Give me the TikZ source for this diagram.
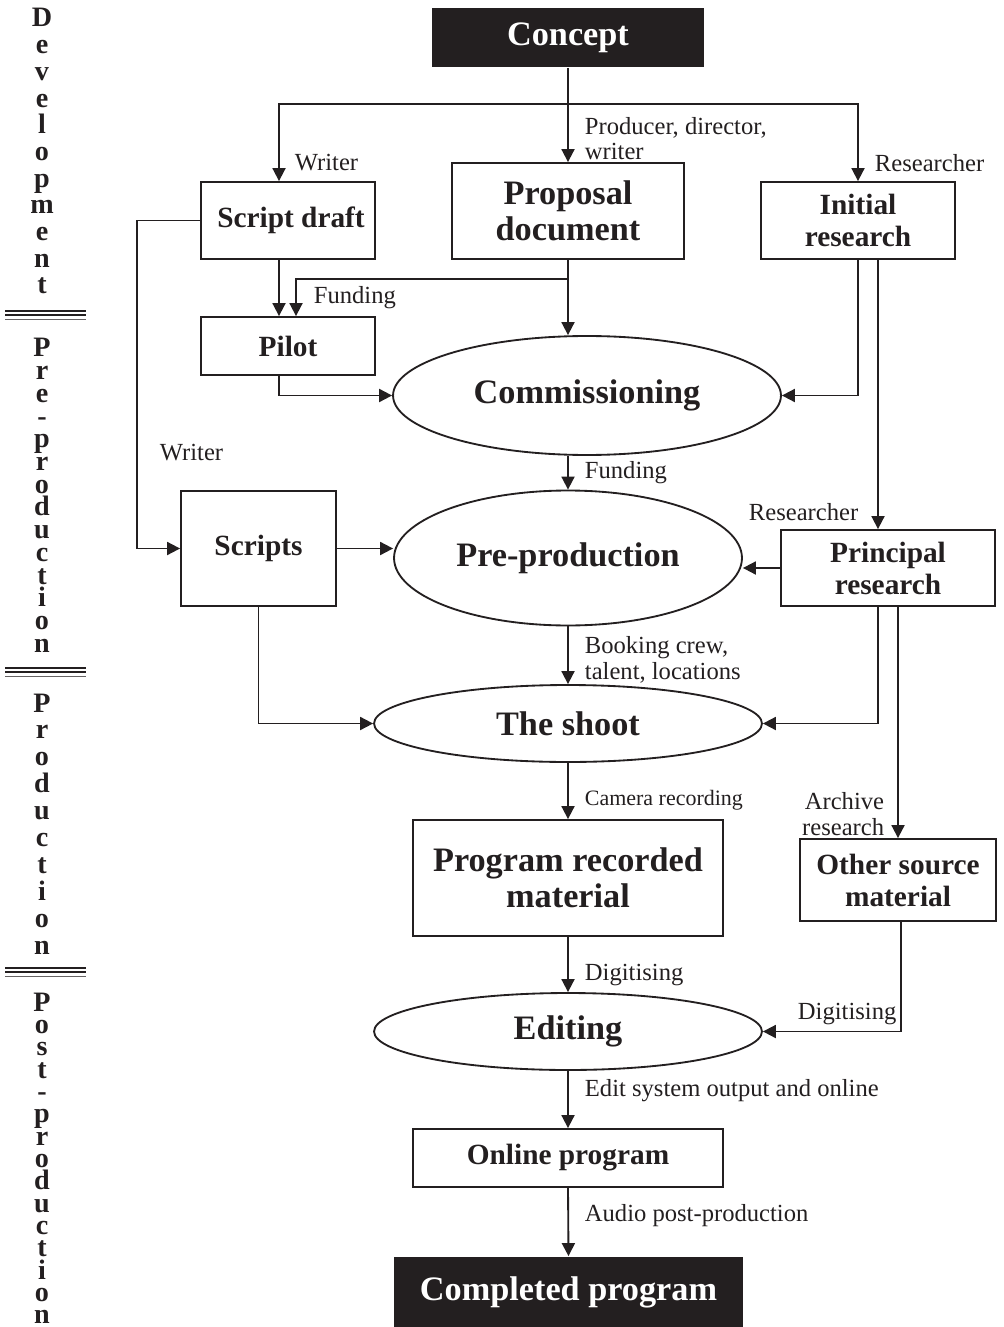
\documentclass[tikz,border=0pt]{standalone}
\usepackage{fontspec}
\setmainfont{Liberation Serif}
\usepackage{tikz}
\usetikzlibrary{
arrows.meta,
positioning,
calc,
shapes.geometric
}
\usepackage{xcolor}
\definecolor{ink}{HTML}{231F20}

\tikzset{
  arr/.style={-{Triangle[length=0.26cm,width=0.26cm]}},
  stagebox/.style={draw, inner sep=0pt, align=center, font=\fontsize{16.7}{18.2}\selectfont\bfseries},
  bigbox/.style={draw, inner sep=0pt, align=center, font=\fontsize{19.5}{20.5}\selectfont\bfseries},
  endbox/.style={fill=ink, text=white, inner sep=0pt, font=\fontsize{19.5}{20.5}\selectfont\bfseries},
  oval/.style={ellipse, draw, inner sep=0pt, font=\fontsize{19.5}{20.5}\selectfont\bfseries},
  role/.style={anchor=west, inner sep=0pt, align=left, font=\fontsize{14}{14.5}\selectfont},
  phase/.style={anchor=base, inner sep=0pt, font=\fontsize{16}{16}\selectfont\bfseries}
}

\begin{document}
\begin{tikzpicture}[x=0.02cm, y=-0.02cm, line width=1.05pt, color=ink]

    \useasboundingbox (0,0) rectangle (1003,1327);

    % ==================== PHASE COLUMN ====================
    \foreach \ch [count=\i from 0] in {D,e,v,e,l,o,p,m,e,n,t}
        \node[phase] (dev\i) at (42,{27+\i*26.7}) {\ch};
    \foreach \ch [count=\i from 0] in {P,r,e,-,p,r,o,d,u,c,t,i,o,n}
        \node[phase] (pre\i) at (42,{357+\i*22.7}) {\ch};
    \foreach \ch [count=\i from 0] in {P,r,o,d,u,c,t,i,o,n}
        \node[phase] (prod\i) at (42,{712+\i*26.9}) {\ch};
    \foreach \ch [count=\i from 0] in {P,o,s,t,-,p,r,o,d,u,c,t,i,o,n}
        \node[phase] (post\i) at (42,{1011+\i*22.35}) {\ch};

    % double rules between the phases
    \foreach \y in {315,672,972} {
        \draw[line width=0.6pt] (5,{\y-4}) -- (86,{\y-4});
        \draw[line width=1.3pt] (5,\y) -- (86,\y);
        \draw[line width=0.8pt, ink!70] (5,{\y+4.3}) -- (86,{\y+4.3});
    }

    % ==================== STAGES ====================
    % Development
    \node[endbox, minimum width=5.44cm, minimum height=1.18cm] (concept) at (568,37.5) {Concept};
    \node[stagebox, minimum width=3.48cm, minimum height=1.54cm] (scriptdraft) at (288,220.5) {\hspace{0.12cm}Script draft};
    \node[bigbox, minimum width=4.64cm, minimum height=1.92cm] (proposal) at (568,211) {Proposal\\document};
    \node[stagebox, minimum width=3.88cm, minimum height=1.54cm] (initial) at (858,220.5) {Initial\\research};
    \node[stagebox, minimum width=3.48cm, minimum height=1.16cm] (pilot) at (288,346) {Pilot};
    \node[oval, minimum width=7.76cm, minimum height=2.38cm] (commission) at (587,395.5) {Commissioning};

    % Pre-production
    \node[stagebox, minimum width=3.10cm, minimum height=2.30cm] (scripts) at (258.5,548.5) {Scripts};
    \node[oval, minimum width=6.96cm, minimum height=2.70cm] (preprod) at (568,558) {Pre-production};
    \node[stagebox, minimum width=4.28cm, minimum height=1.52cm] (principal) at (888,568) {Principal\\research};

    % Production
    \node[oval, minimum width=7.76cm, minimum height=1.54cm] (shoot) at (568,723.5) {The shoot};
    \node[bigbox, minimum width=6.20cm, minimum height=2.32cm] (recorded) at (568,878) {Program recorded\\material};
    \node[stagebox, minimum width=3.92cm, minimum height=1.64cm] (othersrc) at (898,880) {Other source\\material};

    % Post-production
    \node[oval, minimum width=7.76cm, minimum height=1.54cm] (editing) at (568,1031.5) {Editing};
    \node[stagebox, minimum width=6.20cm, minimum height=1.16cm] (online) at (568,1158) {Online program};
    \node[endbox, minimum width=6.98cm, minimum height=1.40cm] (completed) at (568.5,1292) {Completed program};

    % ==================== ROLE LABELS ====================
    \node[role] (writerA) at (294,163) {Writer};
    \node[role] (producer) at (584,138.5) {Producer, director,\\writer};
    \node[role] (researcherA) at (874,163) {Researcher};
    \node[role] (fundingA) at (313,298) {Funding};
    \node[role] (writerB) at (159,453) {Writer};
    \node[role] (fundingB) at (584,473) {Funding};
    \node[role] (researcherB) at (748,512) {Researcher};
    \node[role] (booking) at (584,660) {Booking crew,\\talent, locations};
    \node[role, font=\fontsize{12.5}{13}\selectfont] (camera) at (584,800) {Camera recording};
    \node[role, anchor=east, align=right] (archive) at (885,814) {Archive\\research};
    \node[role] (digitA) at (584,975) {Digitising};
    \node[role] (digitB) at (797,1014) {Digitising};
    \node[role] (edsys) at (584,1091) {Edit system output and online};
    \node[role] (audio) at (584,1216) {Audio post-production};

    % ==================== CONNECTIONS ====================
    % 1. Concept fans out to writer, proposal and researcher
    \coordinate (split) at (568,104);
    \draw[arr] (concept.south) -- (proposal.north);
    \draw[arr] (split) -| ($(scriptdraft.north)+(-9,0)$);
    \draw[arr] (split) -| (initial.north);

    % 2. Script draft and funding into the pilot
    \coordinate (fundsplit) at (568,279);
    \draw[arr] ($(scriptdraft.south)+(-9,0)$) -- ($(pilot.north)+(-9,0)$);
    \draw[arr] (fundsplit) -| ($(pilot.north)+(8,0)$);

    % 3. Everything into commissioning
    \draw[arr] (proposal.south) -- (proposal.south |- commission.north);
    \draw[arr] ($(pilot.south)+(-9,0)$) |- (commission.west);
    \draw[arr] (initial.south) |- (commission.east);

    % 4. Research and scripts feed pre-production
    \draw[arr] ($(initial.south)+(20,0)$) -- ($(principal.north)+(-10,0)$);
    \draw[arr] (scriptdraft.west) -- ++(-63,0) |- (scripts.west);
    \draw[arr] (preprod.north |- commission.south) -- (preprod.north);
    \draw[arr] (scripts.east) -- (scripts.east -| preprod.west);
    \draw[arr] (principal.west) -- (principal.west -| preprod.east);

    % 5. The shoot
    \draw[arr] (preprod.south) -- (shoot.north);
    \draw[arr] (scripts.south) |- (shoot.west);
    \draw[arr] ($(principal.south)+(-10,0)$) |- (shoot.east);
    \draw[arr] ($(principal.south)+(10,0)$) -- (othersrc.north);
    \draw[arr] (shoot.south) -- (recorded.north);

    % 6. Editing down to the finished program
    \draw[arr] (recorded.south) -- (editing.north);
    \draw[arr] ($(othersrc.south)+(3,0)$) |- (editing.east);
    \draw[arr] (editing.south) -- (online.north);
    \draw[arr] (online.south) -- (completed.north);

\end{tikzpicture}
\end{document}
